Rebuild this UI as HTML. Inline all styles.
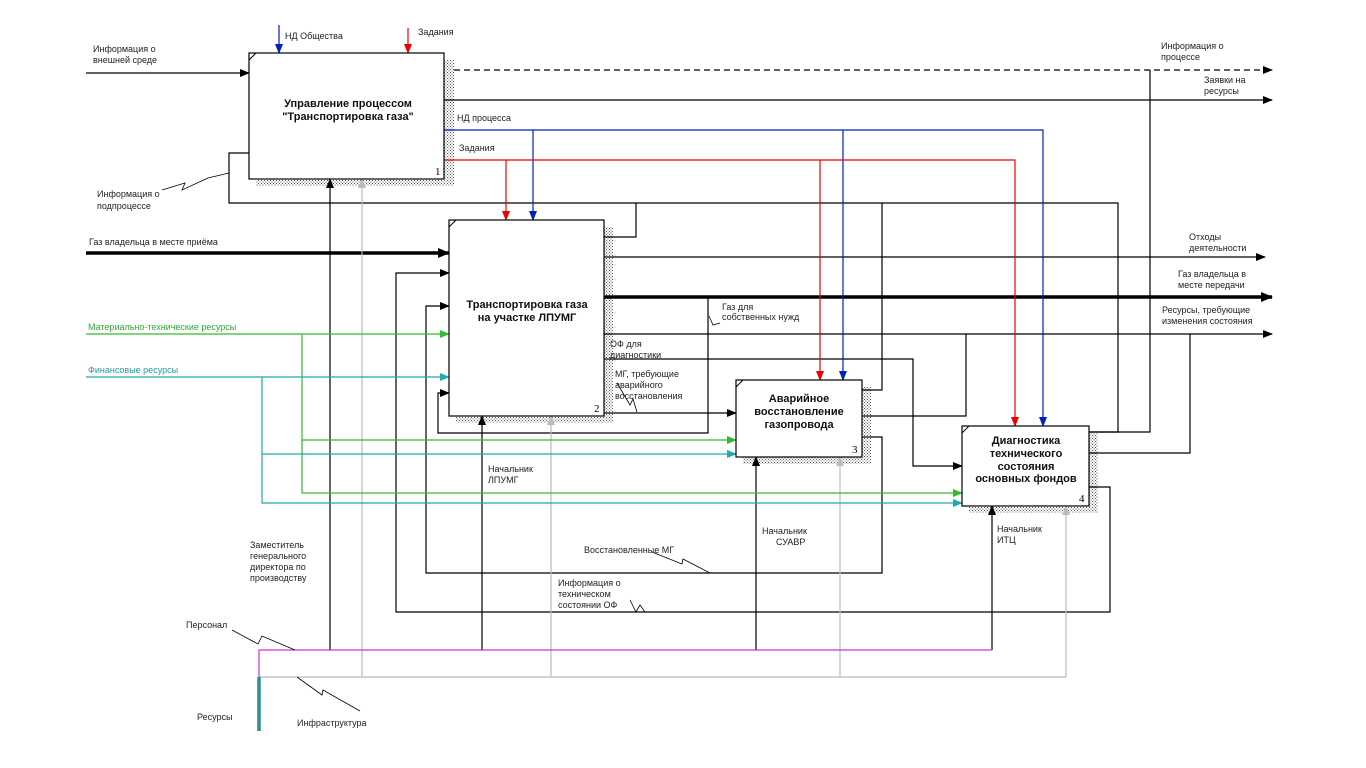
<!DOCTYPE html>
<html><head><meta charset="utf-8"><style>
html,body{margin:0;padding:0;background:#fff;}
svg{display:block;font-family:"Liberation Sans","Noto Sans CJK SC",sans-serif;}
.t{font-size:9px;fill:#222;}
.b{font-size:11px;font-weight:bold;fill:#111;text-anchor:middle;}
</style></head><body>
<svg width="1366" height="768" viewBox="0 0 1366 768" xmlns="http://www.w3.org/2000/svg">
<defs>
<pattern id="h" width="3" height="3" patternUnits="userSpaceOnUse"><rect width="3" height="3" fill="#fff"/><rect width="1" height="1" fill="#555"/><rect x="1.5" y="1.5" width="1" height="1" fill="#555"/></pattern>
<marker id="a" markerWidth="10" markerHeight="8" refX="9" refY="4" orient="auto" markerUnits="userSpaceOnUse"><path d="M0,0 L10,4 L0,8z" fill="#000"/></marker>
<marker id="ar" markerWidth="10" markerHeight="8" refX="9" refY="4" orient="auto" markerUnits="userSpaceOnUse"><path d="M0,0 L10,4 L0,8z" fill="#e00"/></marker>
<marker id="ab" markerWidth="10" markerHeight="8" refX="9" refY="4" orient="auto" markerUnits="userSpaceOnUse"><path d="M0,0 L10,4 L0,8z" fill="#0020c0"/></marker>
<marker id="ag" markerWidth="10" markerHeight="8" refX="9" refY="4" orient="auto" markerUnits="userSpaceOnUse"><path d="M0,0 L10,4 L0,8z" fill="#3b3"/></marker>
<marker id="at" markerWidth="10" markerHeight="8" refX="9" refY="4" orient="auto" markerUnits="userSpaceOnUse"><path d="M0,0 L10,4 L0,8z" fill="#2aa"/></marker>
<marker id="ay" markerWidth="10" markerHeight="8" refX="9" refY="4" orient="auto" markerUnits="userSpaceOnUse"><path d="M0,0 L10,4 L0,8z" fill="#bbb"/></marker>
<marker id="aw" markerWidth="12" markerHeight="10" refX="11" refY="5" orient="auto" markerUnits="userSpaceOnUse"><path d="M0,0 L12,5 L0,10z" fill="#000"/></marker>
</defs>

<rect x="444" y="60" width="10" height="126" fill="url(#h)"/><rect x="256" y="179" width="198" height="7" fill="url(#h)"/>
<rect x="604" y="227" width="9" height="196" fill="url(#h)"/><rect x="456" y="416" width="157" height="7" fill="url(#h)"/>
<rect x="862" y="387" width="9" height="77" fill="url(#h)"/><rect x="743" y="457" width="128" height="7" fill="url(#h)"/>
<rect x="1089" y="433" width="9" height="80" fill="url(#h)"/><rect x="969" y="506" width="129" height="7" fill="url(#h)"/>

<g fill="none" stroke="#000" stroke-width="1.2">
<line x1="86" y1="73" x2="249" y2="73" marker-end="url(#a)"/>
<line x1="454" y1="70" x2="1272" y2="70" stroke-dasharray="6,4" marker-end="url(#a)"/>
<line x1="444" y1="100" x2="1272" y2="100" marker-end="url(#a)"/>
<path d="M1150,70 V432 H1089"/>
<path d="M249,153 H229 V203 H1118 V432 H1089" />
<path d="M604,237 H636 V203"/>
<path d="M862,390 H882 V203"/>
<line x1="86" y1="253" x2="449" y2="253" stroke-width="3.5" marker-end="url(#aw)"/>
<line x1="604" y1="257" x2="1265" y2="257" marker-end="url(#a)"/>
<line x1="604" y1="297" x2="1272" y2="297" stroke-width="3.5" marker-end="url(#aw)"/>
<line x1="604" y1="334" x2="1272" y2="334" marker-end="url(#a)"/>
<path d="M708,297 V433 H438 V393 H449" marker-end="url(#a)"/>
<path d="M604,359 H913 V466 H962" marker-end="url(#a)"/>
<line x1="604" y1="413" x2="736" y2="413" marker-end="url(#a)"/>
<path d="M862,416 H966 V334"/>
<path d="M1089,453 H1190 V334"/>
<path d="M862,437 H882 V573 H426 V306 H449" marker-end="url(#a)"/>
<path d="M1089,487 H1110 V612 H396 V273 H449" marker-end="url(#a)"/>
<line x1="330" y1="650" x2="330" y2="179" marker-end="url(#a)"/>
<line x1="482" y1="650" x2="482" y2="416" marker-end="url(#a)"/>
<line x1="756" y1="650" x2="756" y2="457" marker-end="url(#a)"/>
<line x1="992" y1="650" x2="992" y2="506" marker-end="url(#a)"/>
</g>
<g fill="none" stroke="#bbb" stroke-width="1.2">
<line x1="362" y1="677" x2="362" y2="179" marker-end="url(#ay)"/>
<line x1="551" y1="677" x2="551" y2="416" marker-end="url(#ay)"/>
<line x1="840" y1="677" x2="840" y2="457" marker-end="url(#ay)"/>
<line x1="1066" y1="677" x2="1066" y2="506" marker-end="url(#ay)"/>
<line x1="259" y1="677" x2="1066" y2="677"/>
</g>
<path d="M259,677 V650 H992" fill="none" stroke="#c3c" stroke-width="1.2"/>
<line x1="259" y1="677" x2="259" y2="731" stroke="#2a9090" stroke-width="3.5"/>

<g fill="none" stroke="#0020c0" stroke-width="1.2">
<line x1="279" y1="25" x2="279" y2="53" marker-end="url(#ab)"/>
<path d="M444,130 H1043 V426" marker-end="url(#ab)"/>
<line x1="533" y1="130" x2="533" y2="220" marker-end="url(#ab)"/>
<line x1="843" y1="130" x2="843" y2="380" marker-end="url(#ab)"/>
</g>
<g fill="none" stroke="#e00" stroke-width="1.2">
<line x1="408" y1="28" x2="408" y2="53" marker-end="url(#ar)"/>
<path d="M444,160 H1015 V426" marker-end="url(#ar)"/>
<line x1="506" y1="160" x2="506" y2="220" marker-end="url(#ar)"/>
<line x1="820" y1="160" x2="820" y2="380" marker-end="url(#ar)"/>
</g>
<g fill="none" stroke="#3b3" stroke-width="1.2">
<line x1="86" y1="334" x2="449" y2="334" marker-end="url(#ag)"/>
<path d="M302,334 V440 H736" marker-end="url(#ag)"/>
<path d="M302,440 V493 H962" marker-end="url(#ag)"/>
</g>
<g fill="none" stroke="#2aa" stroke-width="1.2">
<line x1="86" y1="377" x2="449" y2="377" marker-end="url(#at)"/>
<path d="M262,377 V454 H736" marker-end="url(#at)"/>
<path d="M262,454 V503 H962" marker-end="url(#at)"/>
</g>

<g fill="#fff" stroke="#000" stroke-width="1.2">
<rect x="249" y="53" width="195" height="126"/>
<rect x="449" y="220" width="155" height="196"/>
<rect x="736" y="380" width="126" height="77"/>
<rect x="962" y="426" width="127" height="80"/>
</g>
<g stroke="#000" stroke-width="1"><line x1="249" y1="60" x2="256" y2="53"/><line x1="449" y1="227" x2="456" y2="220"/><line x1="736" y1="387" x2="743" y2="380"/><line x1="962" y1="433" x2="969" y2="426"/></g>

<g fill="none" stroke="#000" stroke-width="0.8">
<path d="M162,190 L185,183 L182,190 L208,178 L229,173"/>
<path d="M232,630 L258,644 L262,636 L295,650"/>
<path d="M297,677 L322,695 L323,690 L360,711"/>
<path d="M617,383 L630,405 L633,399 L637,412"/>
<path d="M709,316 L713,325 L720,323"/>
<path d="M652,552 L682,564 L683,559 L710,573"/>
<path d="M630,600 L636,612 L640,605 L645,612"/>
</g>

<text class="b" x="348" y="107">Управление процессом</text>
<text class="b" x="348" y="120">"Транспортировка газа"</text>
<text class="b" x="527" y="308">Транспортировка газа</text>
<text class="b" x="527" y="321">на участке ЛПУМГ</text>
<text class="b" x="799" y="402">Аварийное</text>
<text class="b" x="799" y="415">восстановление</text>
<text class="b" x="799" y="428">газопровода</text>
<text class="b" x="1026" y="444">Диагностика</text>
<text class="b" x="1026" y="457">технического</text>
<text class="b" x="1026" y="470">состояния</text>
<text class="b" x="1026" y="482">основных фондов</text>
<g font-family="Liberation Serif,serif" font-size="11" fill="#000"><text x="435" y="175">1</text><text x="594" y="412">2</text><text x="852" y="453">3</text><text x="1079" y="502">4</text></g>

<g class="t">
<text x="93" y="52">Информация о</text><text x="93" y="63">внешней среде</text>
<text x="285" y="39">НД Общества</text>
<text x="418" y="35">Задания</text>
<text x="1161" y="49">Информация о</text><text x="1161" y="60">процессе</text>
<text x="1204" y="83">Заявки на</text><text x="1204" y="94">ресурсы</text>
<text x="457" y="121">НД процесса</text>
<text x="459" y="151">Задания</text>
<text x="97" y="197">Информация о</text><text x="97" y="209">подпроцессе</text>
<text x="89" y="245">Газ владельца в месте приёма</text>
<text x="1189" y="240">Отходы</text><text x="1189" y="251">деятельности</text>
<text x="1178" y="277">Газ владельца в</text><text x="1178" y="288">месте передачи</text>
<text x="1162" y="313">Ресурсы, требующие</text><text x="1162" y="324">изменения состояния</text>
<text x="722" y="310" >Газ для</text><text x="722" y="320">собственных нужд</text>
<text x="88" y="330" style="fill:#3a3">Материально-технические ресурсы</text>
<text x="88" y="373" style="fill:#2a9a9a">Финансовые ресурсы</text>
<text x="610" y="347">ОФ для</text><text x="610" y="358">диагностики</text>
<text x="615" y="377">МГ, требующие</text><text x="615" y="388">аварийного</text><text x="615" y="399">восстановления</text>
<text x="488" y="472">Начальник</text><text x="488" y="483">ЛПУМГ</text>
<text x="762" y="534">Начальник</text><text x="776" y="545">СУАВР</text>
<text x="997" y="532">Начальник</text><text x="997" y="543">ИТЦ</text>
<text x="250" y="548">Заместитель</text><text x="250" y="559">генерального</text><text x="250" y="570">директора по</text><text x="250" y="581">производству</text>
<text x="584" y="553">Восстановленные МГ</text>
<text x="558" y="586">Информация о</text><text x="558" y="597">техническом</text><text x="558" y="608">состоянии ОФ</text>
<text x="186" y="628">Персонал</text>
<text x="197" y="720">Ресурсы</text>
<text x="297" y="726">Инфраструктура</text>
</g>
</svg>
</body></html>
